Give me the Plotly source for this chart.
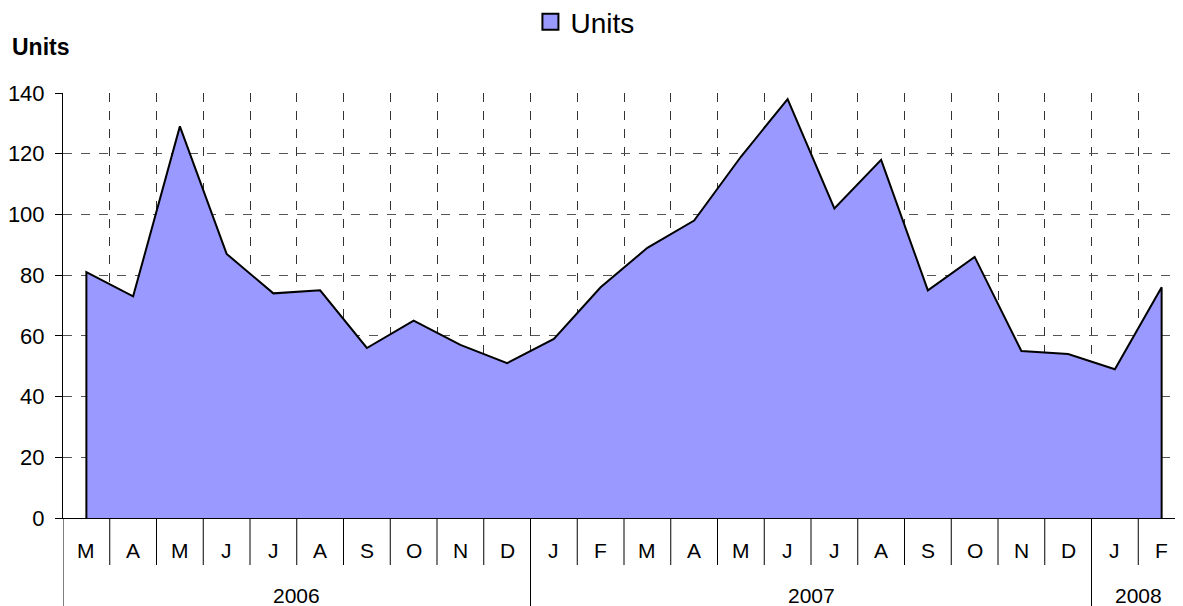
import plotly.graph_objects as go

months = ["M", "A", "M", "J", "J", "A", "S", "O", "N", "D",
          "J", "F", "M", "A", "M", "J", "J", "A", "S", "O", "N", "D",
          "J", "F"]
units = [81, 73, 129, 87, 74, 75, 56, 65, 57, 51,
         59, 76, 89, 98, 119, 138, 102, 118, 75, 86, 55, 54,
         49, 76]
years = ["2006", "2007", "2008"]
year_counts = [10, 12, 2]

FONT = "Liberation Sans, Arial, sans-serif"
n = len(units)
idx = list(range(n))
FILL = "#9999FF"

# page has an 8px body margin -> figure sits at (8, 8)
W, H = 1175, 598
ML, MT, PH = 55, 85, 425
PW = W - ML

fig = go.Figure()
fig.add_trace(go.Scatter(
    x=[idx[0]] + idx + [idx[-1]],
    y=[0] + units + [0],
    mode="lines",
    fill="toself",
    fillcolor=FILL,
    line=dict(color="black", width=2),
    name="Units",
    showlegend=False,
    hoverinfo="skip",
))
fig.add_trace(go.Scatter(
    x=[None], y=[None], mode="markers", name="Units",
    marker=dict(symbol="square", size=18, color=FILL, line=dict(color="black", width=2)),
    showlegend=True,
))

annotations = []
shapes = []
for i, m in enumerate(months):
    annotations.append(dict(x=i, y=-32 / PH, xref="x", yref="paper", text=m,
                            showarrow=False, yanchor="middle",
                            font=dict(size=21, color="black", family=FONT)))
start = 0
year_bounds = [-0.5]
for y, c in zip(years, year_counts):
    mid = start + (c - 1) / 2
    annotations.append(dict(x=mid, y=-77 / PH, xref="x", yref="paper", text=y,
                            showarrow=False, yanchor="middle",
                            font=dict(size=21, color="black", family=FONT)))
    start += c
    year_bounds.append(start - 0.5)

for b in [i + 0.5 for i in range(n - 1)]:
    if b in year_bounds:
        continue
    shapes.append(dict(type="line", xref="x", yref="paper", x0=b, x1=b, y0=0, y1=-47 / PH,
                       line=dict(color="black", width=1)))
for b in year_bounds[:-1]:
    shapes.append(dict(type="line", xref="x", yref="paper", x0=b, x1=b, y0=0, y1=-90 / PH,
                       line=dict(color="black", width=1)))

annotations.append(dict(x=(10 - 63) / PW, y=(518 - 47) / PH, xref="paper", yref="paper",
                        text="<b>Units</b>", showarrow=False, xanchor="left", yanchor="middle",
                        font=dict(size=23, color="black", family=FONT)))

fig.update_layout(
    width=W, height=H,
    margin=dict(l=ML, r=0, t=MT, b=H - MT - PH, autoexpand=False),
    paper_bgcolor="white", plot_bgcolor="white",
    font=dict(family=FONT, color="black"),
    showlegend=True,
    legend=dict(orientation="h", x=0.466, xanchor="center", y=1 + 71 / PH, yanchor="middle",
                font=dict(size=28, family=FONT, color="black"),
                itemsizing="trace", bgcolor="rgba(0,0,0,0)"),
    annotations=annotations,
    shapes=shapes,
    hovermode=False,
)
fig.update_xaxes(
    range=[-0.5, 23.5 - 2 / 46.75],
    tickvals=[i + 0.5 for i in range(n - 1)],
    showticklabels=False,
    showgrid=True, gridcolor="#333333", griddash="dash", gridwidth=1,
    showline=True, linecolor="black", linewidth=1,
    ticks="", zeroline=False,
)
fig.update_yaxes(
    range=[0, 140], dtick=20,
    showgrid=True, gridcolor="#555555", griddash="dash", gridwidth=1,
    showline=True, linecolor="black", linewidth=1,
    ticks="outside", ticklen=7, tickcolor="black",
    ticklabelstandoff=6,
    tickfont=dict(size=22, family=FONT, color="black"),
    zeroline=False,
)

fig.write_html("out.html")
